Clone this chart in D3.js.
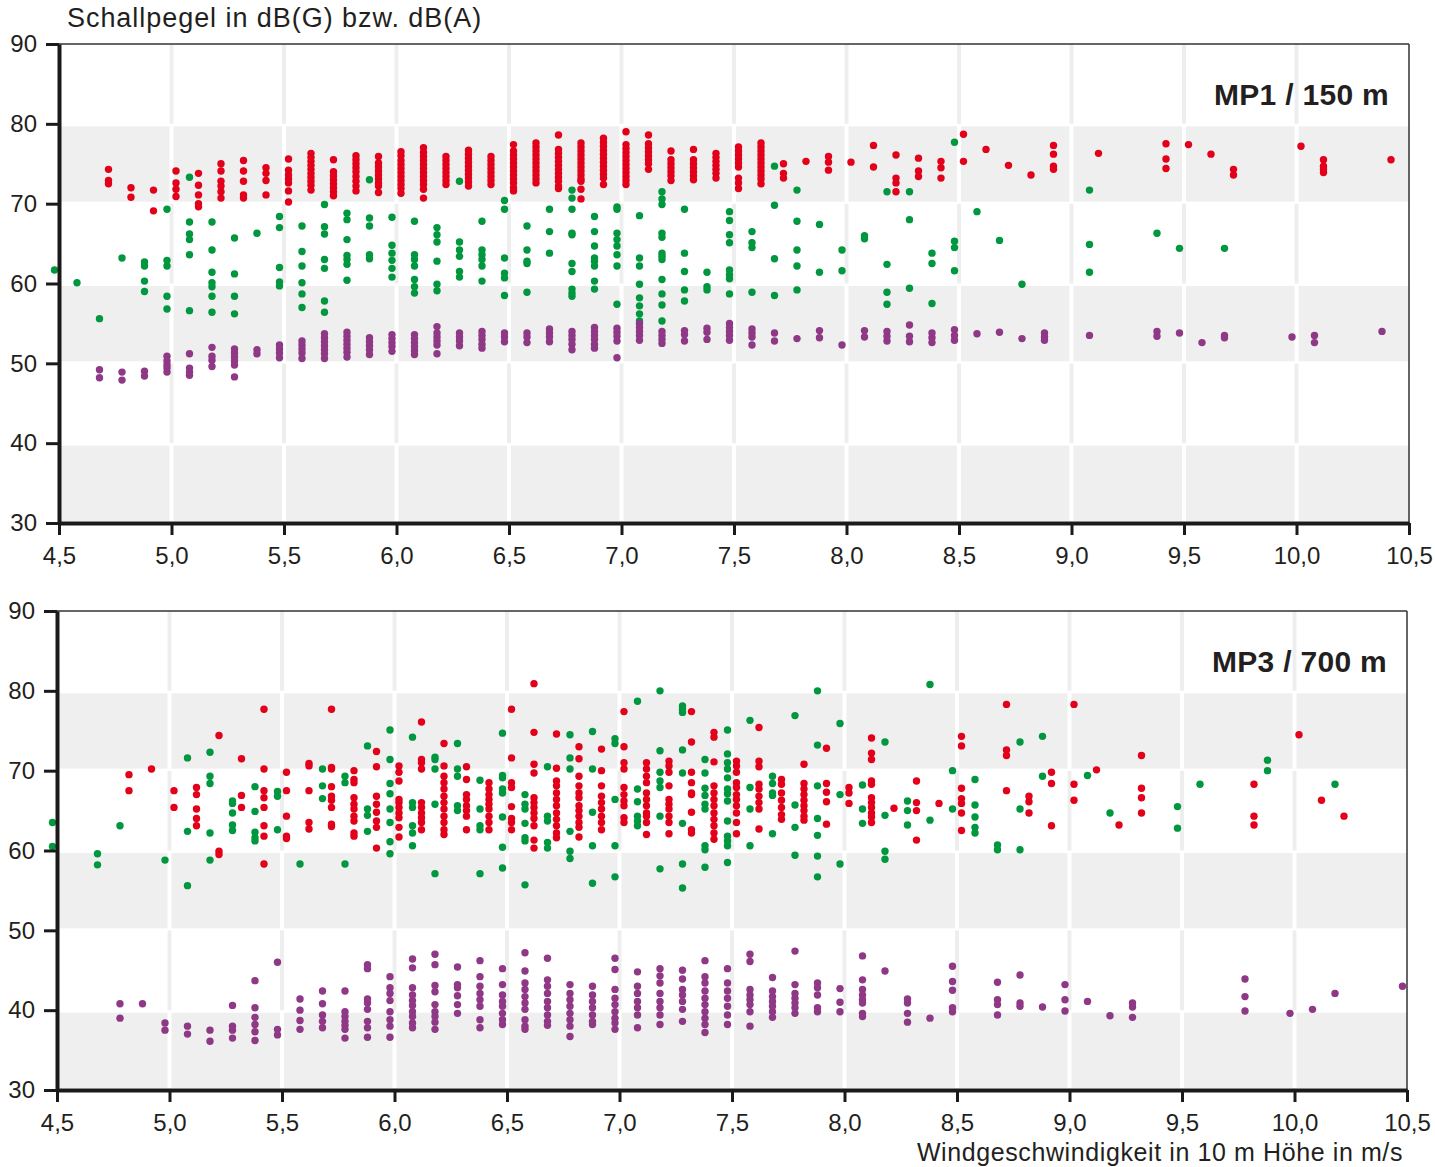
<!DOCTYPE html>
<html lang="de">
<head>
<meta charset="utf-8">
<script src="https://d3js.org/d3.v7.min.js"></script>
<style>
  body { margin: 0; background: #fff; }
  svg { display: block; }
  text { font-family: "Liberation Sans", Arial, sans-serif; fill: #231f20; }
  .tick text { font-size: 24px; }
  .tick line { stroke: #1a1a1a; stroke-width: 3px; }
  .domain { stroke: #1a1a1a; stroke-width: 4px; }
</style>
</head>
<body>
<div id="chart"></div>
<script>
// axis values
var yTicks = [30, 40, 50, 60, 70, 80, 90];
var xTicks = [4.5, 5.0, 5.5, 6.0, 6.5, 7.0, 7.5, 8.0, 8.5, 9.0, 9.5, 10.0, 10.5];
var greyBands = [[30, 40], [50, 60], [70, 80]];
var allBands = [[30, 40], [40, 50], [50, 60], [60, 70], [70, 80], [80, 90]];

// MP1 / 150 m : [wind speed, [levels]]
var mp1Green = [
  [4.48, [61.7]], [4.58, [60.1]], [4.68, [55.6]], [4.78, [63.2]],
  [4.88, [62.7, 62.2, 60.3, 59.0]],
  [4.98, [69.3, 62.9, 62.2, 58.4, 56.8]],
  [5.08, [73.3, 67.7, 66.2, 65.5, 63.6, 56.6]],
  [5.18, [67.7, 64.2, 61.4, 60.1, 59.6, 58.4, 56.4]],
  [5.28, [65.7, 61.2, 58.4, 56.2]],
  [5.38, [66.3]],
  [5.48, [68.4, 67.0, 62.0, 60.2, 59.7]],
  [5.58, [67.2, 64.0, 62.2, 60.1, 58.7, 57.0]],
  [5.68, [69.9, 67.1, 66.2, 63.0, 61.9, 57.8, 56.4]],
  [5.78, [68.8, 68.0, 65.5, 63.5, 63.0, 62.4, 60.4]],
  [5.88, [73.0, 68.2, 67.2, 63.6, 63.1]],
  [5.98, [68.3, 64.8, 63.8, 62.9, 61.9, 60.8]],
  [6.08, [67.8, 63.6, 63.0, 62.2, 60.5, 59.6, 58.8]],
  [6.18, [67.0, 66.1, 65.2, 62.8, 59.9, 59.1]],
  [6.28, [72.8, 65.2, 64.2, 63.4, 61.5, 60.8]],
  [6.38, [67.8, 64.2, 63.6, 63.0, 62.2, 60.3]],
  [6.48, [70.4, 69.3, 63.2, 61.3, 60.7, 58.5]],
  [6.58, [67.2, 64.2, 62.8, 62.5, 58.9]],
  [6.68, [69.3, 66.5, 63.8]],
  [6.78, [71.7, 70.7, 69.3, 66.3, 66.1, 62.5, 61.5, 59.3, 58.8, 58.4]],
  [6.88, [68.4, 66.5, 64.7, 63.2, 62.8, 62.2, 60.3, 59.3]],
  [6.98, [69.6, 69.3, 66.3, 65.5, 64.7, 63.6, 62.2, 57.4]],
  [7.08, [68.5, 63.2, 62.2, 59.9, 58.2, 57.2, 56.2, 55.3]],
  [7.18, [71.5, 70.6, 69.9, 66.3, 65.8, 63.8, 63.4, 63.0, 60.5, 58.7, 57.3, 55.3]],
  [7.28, [69.3, 63.8, 61.5, 59.2, 57.8]],
  [7.38, [61.4, 59.6, 59.2]],
  [7.48, [69.0, 67.9, 66.1, 65.1, 61.7, 61.1, 60.6, 58.7]],
  [7.58, [66.5, 65.1, 64.5, 58.9]],
  [7.68, [74.7, 69.8, 63.1, 58.5]],
  [7.78, [71.7, 67.8, 64.2, 62.2, 59.2]],
  [7.88, [67.4, 61.4]], [7.98, [64.2, 61.6]], [8.08, [66.0, 65.6]],
  [8.18, [71.5, 62.4, 58.9, 57.4]],
  [8.28, [71.5, 68.0, 59.4]],
  [8.38, [63.8, 62.5, 57.5]],
  [8.48, [77.7, 65.3, 64.5, 61.6]],
  [8.58, [69.0]], [8.68, [65.4]], [8.78, [59.9]],
  [9.08, [71.7, 64.9, 61.4]], [9.38, [66.3]], [9.48, [64.4]], [9.68, [64.4]]
];
var mp1Red = [
  [4.72, [74.3, 72.9, 72.5]],
  [4.82, [72.0, 70.8]],
  [4.92, [71.7, 69.1]],
  [5.02, [74.1, 72.6, 71.8, 70.9]],
  [5.12, [73.8, 72.3, 71.1, 70.0, 69.6]],
  [5.22, [75.0, 74.1, 72.8, 72.2, 71.5, 70.7]],
  [5.32, [75.4, 74.1, 72.8, 71.1, 70.7]],
  [5.42, [74.5, 73.8, 72.9, 71.1]],
  [5.52, [75.6, 74.2, 73.6, 73.1, 72.6, 71.6, 70.2]],
  [5.62, [76.3, 75.8, 75.3, 74.8, 74.3, 73.8, 73.3, 72.8, 72.3, 71.7]],
  [5.72, [75.5, 74.0, 73.5, 73.0, 72.5, 72.0, 71.5, 71.0]],
  [5.82, [76.0, 75.5, 75.0, 74.5, 74.0, 73.4, 72.8, 72.2, 71.6]],
  [5.92, [75.9, 75.1, 74.6, 74.1, 73.6, 73.1, 72.6, 72.2, 71.4]],
  [6.02, [76.5, 76.0, 75.4, 74.9, 74.4, 73.9, 73.4, 72.9, 72.4, 71.9, 71.3]],
  [6.12, [77.0, 76.4, 75.9, 75.4, 74.9, 74.4, 73.9, 73.4, 72.9, 72.4, 71.8, 70.7]],
  [6.22, [75.9, 75.4, 74.9, 74.4, 73.9, 73.4, 72.9, 72.4]],
  [6.32, [76.7, 76.2, 75.7, 75.2, 74.7, 74.2, 73.7, 73.2, 72.7, 72.2]],
  [6.42, [75.9, 75.4, 74.9, 74.4, 73.9, 73.4, 72.9, 72.4]],
  [6.52, [77.4, 76.6, 76.1, 75.6, 75.1, 74.6, 74.1, 73.6, 73.1, 72.6, 72.0, 71.6]],
  [6.62, [77.6, 77.1, 76.6, 76.1, 75.6, 75.1, 74.6, 74.1, 73.6, 73.1, 72.6]],
  [6.72, [78.6, 76.8, 76.3, 75.8, 75.3, 74.8, 74.3, 73.8, 73.3, 72.8, 72.2, 71.9]],
  [6.82, [77.6, 77.1, 76.6, 76.1, 75.6, 75.1, 74.6, 74.1, 73.6, 73.1, 72.8, 71.8, 70.6]],
  [6.92, [78.2, 77.7, 77.2, 76.7, 76.2, 75.7, 75.2, 74.7, 74.2, 73.7, 73.2, 72.4]],
  [7.02, [79.0, 77.4, 76.9, 76.4, 75.9, 75.4, 74.9, 74.4, 73.9, 73.4, 72.9, 72.4]],
  [7.12, [78.6, 77.5, 77.0, 76.5, 76.0, 75.5, 75.0, 74.3]],
  [7.22, [76.6, 75.5, 75.0, 74.5, 74.0, 73.5, 72.9]],
  [7.32, [76.8, 75.5, 75.0, 74.5, 74.0, 73.5, 73.0]],
  [7.42, [76.3, 75.8, 75.3, 74.8, 74.3, 73.8, 73.2]],
  [7.52, [77.1, 76.6, 76.1, 75.6, 75.1, 74.6, 73.2, 72.6, 71.9]],
  [7.62, [77.6, 77.1, 76.6, 76.1, 75.6, 75.1, 74.6, 74.1, 73.6, 73.1, 72.5]],
  [7.72, [75.0, 73.8, 73.2]],
  [7.82, [75.3]],
  [7.92, [75.9, 75.2, 74.2]],
  [8.02, [75.2]],
  [8.12, [77.3, 74.6]],
  [8.22, [76.1, 73.2, 72.6, 71.5]],
  [8.32, [75.7, 74.1, 73.4]],
  [8.42, [75.3, 74.5, 73.2]],
  [8.52, [78.7, 75.3]],
  [8.62, [76.8]], [8.72, [74.8]], [8.82, [73.6]],
  [8.92, [77.3, 76.2, 74.7, 74.3]],
  [9.12, [76.3]],
  [9.42, [77.5, 75.6, 74.4]],
  [9.52, [77.4]], [9.62, [76.2]], [9.72, [74.3, 73.6]],
  [10.02, [77.2]],
  [10.12, [75.5, 74.7, 74.3, 73.9]],
  [10.42, [75.5]]
];
var mp1Purple = [
  [4.68, [49.2, 48.2]], [4.78, [48.9, 47.9]], [4.88, [49.0, 48.4]],
  [4.98, [50.9, 50.3, 49.8, 49.4, 48.9]],
  [5.08, [51.2, 49.4, 48.9, 48.5]],
  [5.18, [52.0, 50.9, 50.4, 49.6]],
  [5.28, [51.8, 51.3, 50.8, 50.3, 49.8, 48.3]],
  [5.38, [51.7, 51.2]],
  [5.48, [52.3, 51.8, 51.3, 50.7]],
  [5.58, [52.8, 52.3, 51.8, 51.3, 50.6]],
  [5.68, [53.7, 53.2, 52.7, 52.2, 51.7, 51.2, 50.6]],
  [5.78, [53.9, 53.4, 52.9, 52.4, 51.9, 51.4, 50.8]],
  [5.88, [53.2, 52.7, 52.2, 51.7, 51.1]],
  [5.98, [53.6, 53.1, 52.6, 52.1, 51.5]],
  [6.08, [53.6, 53.1, 52.6, 52.1, 51.6, 51.1]],
  [6.18, [54.6, 53.8, 53.3, 52.8, 52.3, 51.2]],
  [6.28, [53.8, 53.3, 52.8, 52.2]],
  [6.38, [54.0, 53.5, 53.0, 52.4, 51.9]],
  [6.48, [53.8, 53.3, 52.7]],
  [6.58, [53.8, 53.3, 52.6]],
  [6.68, [54.3, 53.8, 53.3, 52.7]],
  [6.78, [54.0, 53.5, 53.0, 52.4, 51.7]],
  [6.88, [54.5, 54.0, 53.5, 53.0, 52.4, 51.9]],
  [6.98, [54.4, 53.9, 53.4, 52.8, 50.7]],
  [7.08, [55.0, 54.5, 54.0, 53.5, 52.9]],
  [7.18, [54.0, 53.5, 53.0, 52.5]],
  [7.28, [54.1, 53.6, 52.8]],
  [7.38, [54.4, 53.9, 53.0]],
  [7.48, [55.0, 54.5, 54.0, 53.5, 52.9]],
  [7.58, [54.3, 53.8, 53.3, 52.3]],
  [7.68, [53.8, 52.8]], [7.78, [53.1]], [7.88, [54.1, 53.2]], [7.98, [52.3]],
  [8.08, [54.1, 53.3]], [8.18, [54.0, 53.4, 52.8]], [8.28, [54.8, 53.4, 52.7]],
  [8.38, [53.8, 53.2, 52.6]], [8.48, [54.2, 53.5, 52.9]],
  [8.58, [53.7]], [8.68, [53.9]], [8.78, [53.1]], [8.88, [53.8, 53.3, 52.9]],
  [9.08, [53.5]], [9.38, [54.0, 53.4]], [9.48, [53.8]], [9.58, [52.6]],
  [9.68, [53.5, 53.2]], [9.98, [53.3]], [10.08, [53.5, 52.6]], [10.38, [54.0]]
];

// MP3 / 700 m
var mp3Green = [
  [4.48, [63.5, 60.5]], [4.68, [59.6, 58.2]], [4.78, [63.1]], [4.98, [58.8]],
  [5.08, [71.6, 62.4, 55.6]],
  [5.18, [72.3, 69.3, 68.4, 62.2, 58.8]],
  [5.28, [66.2, 65.9, 64.7, 63.2, 62.5]],
  [5.38, [68.0, 64.9, 62.3, 61.6, 61.2]],
  [5.48, [67.4, 66.8, 62.6]],
  [5.58, [58.3]],
  [5.68, [70.2, 68.1, 66.5]],
  [5.78, [69.3, 68.5, 58.3]],
  [5.88, [73.1, 65.2, 64.4, 62.4]],
  [5.98, [75.1, 71.4, 68.4, 67.1, 65.2, 63.5, 61.1, 59.6]],
  [6.08, [74.2, 66.0, 65.4, 63.1, 62.2, 60.6]],
  [6.18, [71.7, 71.4, 70.2, 65.8, 57.1]],
  [6.28, [73.4, 70.2, 69.3, 65.6, 65.0]],
  [6.38, [68.8, 65.2, 63.1, 62.6, 57.1]],
  [6.48, [74.7, 69.4, 69.1, 67.7, 67.2, 64.2, 60.4, 57.8]],
  [6.58, [67.0, 65.8, 65.2, 63.4, 61.6, 61.2, 55.7]],
  [6.68, [70.5, 64.3, 63.7, 61.0, 60.3]],
  [6.78, [74.5, 71.6, 70.2, 62.4, 59.9, 59.0]],
  [6.88, [74.9, 70.2, 64.8, 60.6, 55.9]],
  [6.98, [74.0, 73.4, 66.4, 60.6, 56.7]],
  [7.08, [78.7, 67.7, 66.1, 64.3, 63.7, 63.1]],
  [7.18, [80.0, 72.5, 69.8, 68.7, 67.9, 64.3, 57.7]],
  [7.28, [78.1, 77.7, 77.3, 72.6, 69.7, 63.4, 58.3, 55.3]],
  [7.38, [71.4, 69.7, 67.8, 66.9, 65.8, 65.2, 60.6, 60.1, 57.9]],
  [7.48, [75.1, 72.1, 71.0, 70.2, 69.1, 67.7, 67.1, 66.2, 63.7, 61.8, 61.2, 60.6, 58.5]],
  [7.58, [76.3, 67.9, 65.2, 60.6]],
  [7.68, [69.3, 68.4, 67.2, 66.9, 62.1]],
  [7.78, [76.9, 65.7, 62.9, 59.4]],
  [7.88, [80.0, 73.2, 68.1, 64.0, 61.9, 59.3, 56.7]],
  [7.98, [75.9, 67.0, 58.3]],
  [8.08, [68.2, 65.2, 63.4]],
  [8.18, [73.6, 64.4, 59.9, 58.9]],
  [8.28, [66.2, 65.0, 63.2]],
  [8.38, [80.8, 63.8]],
  [8.48, [70.0, 65.2]],
  [8.58, [68.9, 65.7, 64.2, 62.9, 62.2]],
  [8.68, [60.7, 60.1]],
  [8.78, [73.6, 65.2, 60.1]],
  [8.88, [74.3, 69.3]],
  [9.08, [69.4]], [9.18, [64.7]], [9.48, [65.5, 62.8]], [9.58, [68.3]],
  [9.88, [71.3, 70.0]], [10.18, [68.3]]
];
var mp3Red = [
  [4.82, [69.5, 67.5]], [4.92, [70.2]], [5.02, [67.5, 65.4]],
  [5.12, [67.9, 67.0, 65.2, 64.0, 63.1]],
  [5.22, [74.4, 59.9, 59.5]],
  [5.32, [71.5, 66.9, 65.4]],
  [5.42, [77.7, 70.2, 67.5, 66.6, 65.4, 63.1, 61.8, 58.3]],
  [5.52, [69.8, 67.5, 64.3, 61.8, 61.5]],
  [5.62, [70.9, 70.6, 67.5, 63.5, 62.7]],
  [5.72, [77.7, 70.4, 70.2, 68.0, 66.8, 66.3, 65.4, 63.3, 63.0]],
  [5.82, [70.0, 68.9, 68.5, 66.6, 65.8, 65.2, 64.3, 63.7, 62.2, 61.8]],
  [5.92, [72.4, 70.5, 66.8, 65.8, 64.8, 63.7, 62.9, 60.3]],
  [6.02, [70.6, 69.8, 68.7, 66.4, 66.0, 65.4, 64.7, 64.1, 62.9, 61.7]],
  [6.12, [76.1, 71.4, 71.0, 70.2, 66.0, 65.4, 64.7, 64.1, 63.5, 62.6]],
  [6.22, [73.4, 70.6, 69.3, 68.5, 67.7, 66.8, 66.0, 65.2, 64.3, 63.5, 62.6, 62.0]],
  [6.32, [70.5, 68.9, 67.0, 66.4, 65.6, 65.0, 64.3, 62.6]],
  [6.42, [68.5, 67.7, 67.0, 66.4, 65.8, 65.2, 64.3, 63.5, 62.6]],
  [6.52, [77.7, 71.6, 68.5, 67.9, 65.5, 64.0, 63.5, 62.6]],
  [6.62, [80.9, 74.8, 70.8, 69.7, 66.6, 66.0, 65.4, 64.7, 64.0, 63.1, 61.3, 60.3]],
  [6.72, [74.6, 70.3, 68.7, 68.1, 67.2, 66.4, 65.6, 64.7, 63.9, 63.1, 62.2, 61.6]],
  [6.82, [73.0, 71.5, 69.3, 68.1, 67.2, 66.6, 65.6, 65.0, 64.3, 63.5, 62.9, 61.7]],
  [6.92, [72.7, 70.0, 68.1, 66.8, 66.0, 65.2, 64.3, 63.5, 62.6]],
  [7.02, [77.4, 73.0, 71.0, 70.2, 67.9, 67.0, 66.2, 65.6, 64.1, 63.5]],
  [7.12, [71.0, 70.2, 69.3, 68.5, 67.2, 66.4, 65.6, 64.7, 64.3, 63.5, 62.0]],
  [7.22, [71.2, 70.6, 69.8, 68.1, 66.4, 65.8, 65.2, 64.3, 63.5, 62.1]],
  [7.32, [77.4, 73.6, 69.8, 68.5, 67.2, 67.0, 64.8, 62.6, 62.2]],
  [7.42, [74.8, 74.2, 71.1, 68.1, 67.2, 66.4, 65.6, 64.7, 63.9, 63.1, 62.2, 61.4]],
  [7.52, [71.2, 70.6, 69.8, 68.5, 67.9, 67.0, 66.4, 65.6, 64.7, 63.5, 62.1]],
  [7.62, [75.4, 71.2, 70.5, 68.3, 67.7, 66.8, 66.0, 65.2, 62.7]],
  [7.72, [68.9, 68.3, 67.2, 66.3, 65.4, 64.5, 63.9]],
  [7.82, [70.8, 68.4, 67.7, 67.0, 66.3, 65.6, 65.0, 64.3, 63.8]],
  [7.92, [72.8, 68.4, 67.3, 66.1, 63.3]],
  [8.02, [67.9, 67.2, 65.9]],
  [8.12, [74.1, 72.2, 71.4, 68.7, 68.3, 66.6, 66.0, 65.4, 64.7, 64.2, 63.5]],
  [8.22, [65.3]],
  [8.32, [68.7, 66.0, 65.0, 61.3]],
  [8.42, [65.9]],
  [8.52, [74.3, 73.1, 67.8, 66.5, 65.9, 64.7, 62.5]],
  [8.72, [78.3, 72.6, 71.9, 67.5]],
  [8.82, [66.8, 66.1, 64.7]],
  [8.92, [69.8, 68.4, 63.1]],
  [9.02, [78.3, 68.3, 66.3]],
  [9.12, [70.1]], [9.22, [63.2]],
  [9.32, [71.9, 67.8, 66.6, 64.7]],
  [9.82, [68.3, 64.3, 63.2]],
  [10.02, [74.5]], [10.12, [66.3]], [10.22, [64.3]]
];
var mp3Purple = [
  [4.78, [40.8, 39.0]], [4.88, [40.8]], [4.98, [38.4, 37.5]], [5.08, [38.0, 37.0]],
  [5.18, [37.5, 36.1]], [5.28, [40.6, 38.0, 37.5, 36.5]],
  [5.38, [43.7, 40.3, 39.1, 38.2, 37.3, 36.2]],
  [5.48, [46.0, 37.6, 36.9]],
  [5.58, [41.4, 40.0, 38.7, 37.6]],
  [5.68, [42.4, 40.8, 39.4, 38.6, 37.8]],
  [5.78, [42.4, 39.8, 39.2, 38.6, 38.1, 37.6, 36.5]],
  [5.88, [45.7, 45.2, 41.4, 40.9, 40.1, 38.6, 37.8, 36.6]],
  [5.98, [44.2, 42.8, 42.1, 41.2, 39.8, 38.8, 38.0, 36.6]],
  [6.08, [46.4, 45.3, 42.8, 41.9, 41.2, 40.6, 39.8, 39.2, 38.4, 37.8]],
  [6.18, [47.0, 45.7, 43.1, 42.3, 40.7, 39.8, 39.2, 38.5, 37.6]],
  [6.28, [45.4, 43.2, 42.8, 41.8, 40.7, 39.6]],
  [6.38, [46.2, 44.2, 43.0, 42.1, 41.3, 40.5, 38.8, 37.8]],
  [6.48, [45.2, 43.2, 41.9, 41.1, 40.5, 39.6, 38.8, 38.2]],
  [6.58, [47.2, 44.9, 43.4, 42.6, 41.7, 40.9, 40.1, 38.8, 38.0, 37.6]],
  [6.68, [46.5, 43.8, 43.0, 42.1, 41.1, 40.3, 39.4, 38.6, 38.1]],
  [6.78, [43.2, 42.1, 41.3, 40.5, 39.6, 38.8, 38.0, 36.7]],
  [6.88, [43.0, 41.9, 41.1, 40.3, 39.4, 38.6, 38.2]],
  [6.98, [46.5, 45.1, 42.6, 41.5, 40.7, 39.8, 39.0, 38.4, 37.6]],
  [7.08, [44.8, 43.0, 42.1, 41.1, 40.3, 39.4, 37.8]],
  [7.18, [45.2, 44.3, 43.4, 42.1, 41.1, 40.3, 39.4, 38.2]],
  [7.28, [45.0, 43.9, 42.6, 41.9, 41.1, 40.1, 38.6]],
  [7.38, [46.2, 44.2, 43.4, 42.4, 41.5, 40.7, 39.8, 39.0, 38.2, 37.2]],
  [7.48, [45.2, 43.4, 42.4, 41.5, 40.5, 39.4, 38.2]],
  [7.58, [47.0, 46.1, 42.6, 41.9, 41.3, 40.7, 39.8, 38.0]],
  [7.68, [44.1, 42.4, 41.7, 41.1, 40.5, 39.8, 39.1]],
  [7.78, [47.4, 43.2, 42.1, 41.5, 40.9, 40.3, 39.6]],
  [7.88, [43.4, 42.8, 41.9, 40.3, 39.8]],
  [7.98, [42.7, 41.0, 39.8]],
  [8.08, [46.8, 43.8, 42.6, 41.9, 41.3, 40.9, 39.6, 39.2]],
  [8.18, [44.9]],
  [8.28, [41.4, 40.9, 39.6, 38.5]],
  [8.38, [39.0]],
  [8.48, [45.5, 43.6, 42.5, 40.3, 39.8]],
  [8.68, [43.5, 41.3, 40.7, 39.4]],
  [8.78, [44.4, 40.9, 40.5]],
  [8.88, [40.4]],
  [8.98, [43.2, 41.3, 39.9]],
  [9.08, [41.1]], [9.18, [39.3]], [9.28, [40.9, 40.4, 39.1]],
  [9.78, [43.9, 41.7, 39.9]],
  [9.98, [39.6]], [10.08, [40.1]], [10.18, [42.1]], [10.48, [43.0]]
];

var colors = { green: "#00973f", red: "#e2001a", purple: "#8e3886" };

var width = 1435, height = 1167;
var svg = d3.select("#chart").append("svg")
    .attr("width", width)
    .attr("height", height);

function flat(cols) {
  return cols.flatMap(function(c) { return c[1].map(function(v) { return { x: c[0], v: v }; }); });
}

function fmtX(d) { return d3.format(".1f")(d).replace(".", ","); }

function panel(box, label, series) {
  var x = d3.scaleLinear().domain([4.5, 10.5]).range([box.left, box.right]);
  var y = d3.scaleLinear().domain([30, 90]).range([box.bottom, box.top]);
  var g = svg.append("g");

  // grey bands
  g.selectAll("rect.band").data(greyBands).join("rect")
      .attr("class", "band")
      .attr("x", box.left)
      .attr("width", box.right - box.left)
      .attr("y", function(d) { return y(d[1]) + 2.5; })
      .attr("height", function(d) { return y(d[0]) - y(d[1]) - 4.5; })
      .attr("fill", "#efefef");

  // vertical grid, white over grey bands, light grey over white bands
  var gridX = xTicks.slice(1, -1);
  allBands.forEach(function(b) {
    var isGrey = greyBands.some(function(gb) { return gb[0] === b[0]; });
    g.append("g").selectAll("line").data(gridX).join("line")
        .attr("x1", function(d) { return x(d); })
        .attr("x2", function(d) { return x(d); })
        .attr("y1", y(b[1]))
        .attr("y2", y(b[0]))
        .attr("stroke", isGrey ? "#ffffff" : "#eeeeee")
        .attr("stroke-width", 4);
  });

  // frame top + right
  g.append("line").attr("x1", box.left).attr("x2", box.right)
      .attr("y1", box.top).attr("y2", box.top)
      .attr("stroke", "#333").attr("stroke-width", 1.5);
  g.append("line").attr("x1", box.right).attr("x2", box.right)
      .attr("y1", box.top).attr("y2", box.bottom)
      .attr("stroke", "#333").attr("stroke-width", 1.5);

  // dots
  series.forEach(function(s) {
    g.append("g").selectAll("circle").data(flat(s.cols)).join("circle")
        .attr("cx", function(d) { return x(d.x); })
        .attr("cy", function(d) { return y(d.v); })
        .attr("r", 3.7)
        .attr("fill", s.color);
  });

  // axes
  g.append("g")
      .attr("transform", "translate(0," + box.bottom + ")")
      .call(d3.axisBottom(x).tickValues(xTicks).tickFormat(fmtX)
            .tickSize(12).tickSizeOuter(0).tickPadding(12));
  g.append("g")
      .attr("transform", "translate(" + box.left + ",0)")
      .call(d3.axisLeft(y).tickValues(yTicks).tickFormat(d3.format("d"))
            .tickSize(13).tickSizeOuter(0).tickPadding(9));

  g.append("text")
      .attr("x", box.right - 20)
      .attr("y", box.top + 61)
      .attr("text-anchor", "end")
      .style("font-size", "30px")
      .style("font-weight", "bold")
      .style("letter-spacing", "0.3px")
      .text(label);
}

panel({ left: 59, right: 1409, top: 44, bottom: 523 }, "MP1 / 150 m", [
  { cols: mp1Green, color: colors.green },
  { cols: mp1Red, color: colors.red },
  { cols: mp1Purple, color: colors.purple }
]);
panel({ left: 57, right: 1407, top: 611, bottom: 1090 }, "MP3 / 700 m", [
  { cols: mp3Green, color: colors.green },
  { cols: mp3Red, color: colors.red },
  { cols: mp3Purple, color: colors.purple }
]);

svg.append("text")
    .attr("x", 67).attr("y", 27)
    .style("font-size", "27px")
    .style("letter-spacing", "0.95px")
    .text("Schallpegel in dB(G) bzw. dB(A)");

svg.append("text")
    .attr("x", 1403).attr("y", 1161)
    .attr("text-anchor", "end")
    .style("font-size", "25px")
    .style("letter-spacing", "0.6px")
    .text("Windgeschwindigkeit in 10 m Höhe in m/s");
</script>
</body>
</html>
